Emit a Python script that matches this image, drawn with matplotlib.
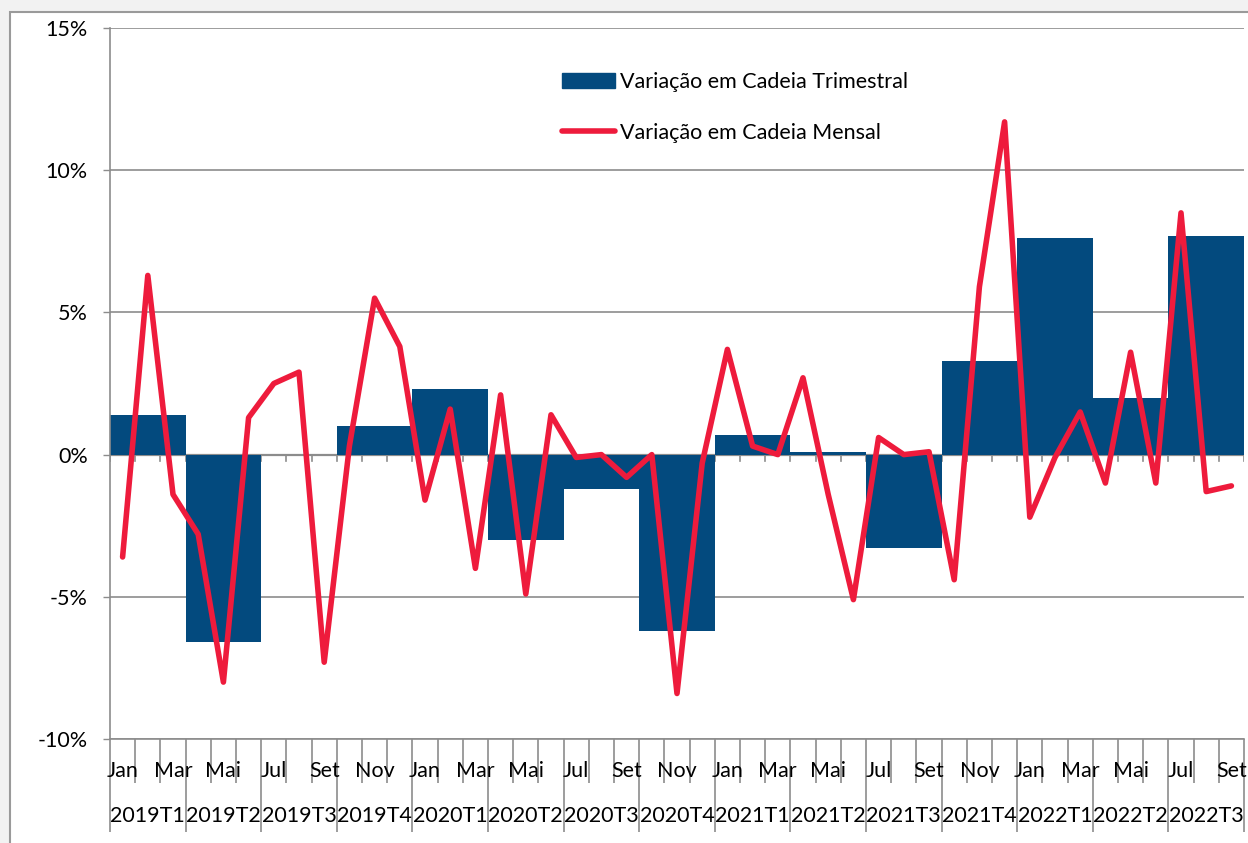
import numpy as np
import matplotlib.pyplot as plt
from matplotlib.patches import Rectangle
from matplotlib.lines import Line2D

plt.rcParams['font.family'] = ['Lato', 'DejaVu Sans']

# Monthly chain variation (%), Jan 2019 - Sep 2022
mensal = [-3.6, 6.3, -1.4, -2.8, -8.0, 1.3, 2.5, 2.9, -7.3, 0.3, 5.5, 3.8,
          -1.6, 1.6, -4.0, 2.1, -4.9, 1.4, -0.1, 0.0, -0.8, 0.0, -8.4, -0.3,
          3.7, 0.3, 0.0, 2.7, -1.4, -5.1, 0.6, 0.0, 0.1, -4.4, 5.9, 11.7,
          -2.2, -0.1, 1.5, -1.0, 3.6, -1.0, 8.5, -1.3, -1.1]

# Quarterly chain variation (%)
trimestral = [1.4, -6.6, 0.0, 1.0, 2.3, -3.0, -1.2, -6.2, 0.7, 0.1, -3.3,
              3.3, 7.6, 2.0, 7.7]

meses = ["Jan", "Fev", "Mar", "Abr", "Mai", "Jun",
         "Jul", "Ago", "Set", "Out", "Nov", "Dez"]
trimestres = [f"{y}T{q}" for y in range(2019, 2023) for q in range(1, 5)][:15]

azul = "#034a7e"
vermelho = "#ee1b3c"
cinza = "#8c8c8c"
fs = 15.5

W, H = 1248, 843
fig = plt.figure(figsize=(W / 100, H / 100), dpi=100)
fig.patch.set_facecolor("#f2f2f2")
# white chart area with grey border
fig.patches.append(Rectangle((10 / W, -0.1), 1.2, (H - 12) / H + 0.1,
                             transform=fig.transFigure, facecolor="white",
                             edgecolor="#9a9a9a", linewidth=1.5, zorder=-10))

ax = fig.add_axes([110 / W, 1 - 739 / H, (1244 - 110) / W, (739 - 28) / H])
ax.set_facecolor("none")

n = len(mensal)
x_m = np.arange(n)
x_q = np.arange(len(trimestral)) * 3 + 1

ax.bar(x_q, trimestral, width=3, color=azul, zorder=2, label="Variação em Cadeia Trimestral")
ax.plot(x_m, mensal, color=vermelho, lw=4, zorder=3, solid_joinstyle="round",
        solid_capstyle="round", label="Variação em Cadeia Mensal")

ax.set_xlim(-0.5, n - 0.5)
ax.set_ylim(-10, 15)

# y axis
ax.set_yticks(range(-10, 16, 5))
ax.set_yticklabels([f"{v}%" for v in range(-10, 16, 5)], fontsize=fs)
ax.tick_params(axis="y", length=5, width=1, color=cinza, pad=11)
ax.grid(axis="y", color=cinza, lw=1.2, zorder=1)
for s in ["top", "right"]:
    ax.spines[s].set_visible(False)
ax.spines["left"].set_color(cinza)
ax.spines["left"].set_linewidth(1.2)
ax.spines["bottom"].set_color(cinza)
ax.spines["bottom"].set_linewidth(1.2)

# category axis at the bottom: month ticks and quarter separators
bordas = np.arange(n + 1) - 0.5
ax.set_xticks(bordas[::3])
ax.set_xticks(bordas, minor=True)
ax.tick_params(axis="x", which="major", length=67, width=1.2, color=cinza, labelbottom=False)
ax.tick_params(axis="x", which="minor", length=32, width=1.2, color=cinza)

# small ticks on the zero line
for b in bordas:
    ax.plot([b, b], [0, -0.22], color=cinza, lw=1.2, zorder=1.5)
ax.axhline(0, color=cinza, lw=1.6, zorder=1.5)

for i in range(0, n, 2):
    ax.text(i, -0.045, meses[i % 12], transform=ax.get_xaxis_transform(),
            ha="center", va="center", fontsize=fs)
for q, lab in enumerate(trimestres):
    ax.text(x_q[q], -0.109, lab, transform=ax.get_xaxis_transform(),
            ha="center", va="center", fontsize=fs)

handles = [Rectangle((0, 0), 1, 1, color=azul),
           Line2D([0], [0], color=vermelho, lw=4, solid_capstyle="round")]
ax.legend(handles, ["Variação em Cadeia Trimestral", "Variação em Cadeia Mensal"],
          loc="upper left", bbox_to_anchor=(551 / W, 1 - 61 / H),
          bbox_transform=fig.transFigure, frameon=False, fontsize=fs,
          handlelength=2.45, handleheight=0.7, handletextpad=0.25,
          labelspacing=1.45, borderpad=0)

fig.savefig("out.png", dpi=100)
